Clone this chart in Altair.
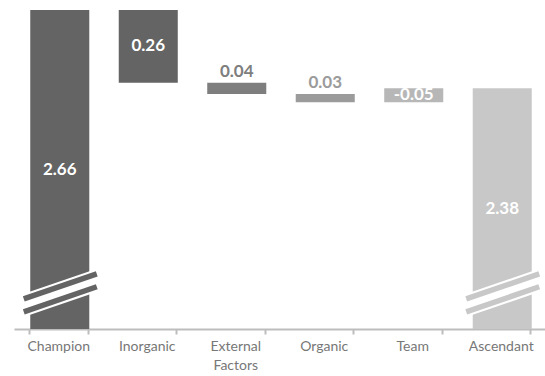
import altair as alt
import pandas as pd

# Waterfall: Champion total, the steps that separate it from Ascendant, Ascendant total
categories = ["Champion", "Inorganic", "External Factors", "Organic", "Team", "Ascendant"]
values = [2.66, 0.26, 0.04, 0.03, -0.05, 2.38]
value_labels = ["2.66", "0.26", "0.04", "0.03", "-0.05", "2.38"]
bar_colors = ["#646464", "#646464", "#7e7e7e", "#9b9b9b", "#b7b7b7", "#c8c8c8"]
label_colors = ["#ffffff", "#ffffff", "#7e7e7e", "#9b9b9b", "#ffffff", "#ffffff"]
label_inside = [True, True, False, False, True, True]

# broken value axis: bars start from this floor
axis_floor = 1.52
axis_top = 2.66

# break symbols on the two total bars (two parallel slashes, value at left / right end)
break_bars = ["Champion", "Ascendant"]
break_left = [1.628, 1.581]
break_right = [1.717, 1.671]

rows = []
running = values[0]
for i, (cat, v) in enumerate(zip(categories, values)):
    if i == 0 or i == len(categories) - 1:
        start, end = axis_floor, v
    else:
        start, end = running, running - v
        running = end
    rows.append({
        "category": cat,
        "start": start,
        "end": end,
        "mid": (start + end) / 2,
        "top": max(start, end),
        "label": value_labels[i],
        "bar_color": bar_colors[i],
        "label_color": label_colors[i],
        "inside": label_inside[i],
    })
bars_df = pd.DataFrame(rows)

break_rows = []
for cat in break_bars:
    color = bars_df.loc[bars_df["category"] == cat, "bar_color"].iloc[0]
    for left, right in zip(break_left, break_right):
        break_rows.append({"category": cat, "left": left, "right": right, "color": color})
breaks_df = pd.DataFrame(break_rows)
gap_df = (
    breaks_df.groupby("category", as_index=False)[["left", "right"]].mean()
)

SHIFT = 1.5  # bars sit slightly right of their band centre

x_enc = alt.X(
    "category:N",
    sort=categories,
    scale=alt.Scale(paddingInner=0.333, paddingOuter=0.1667),
    axis=alt.Axis(
        title=None,
        labelAngle=0,
        tickBand="extent",
        labelExpr="split(datum.label, ' ')",
        labelFont="Lato",
        labelFontSize=14,
        labelColor="#777777",
        labelLineHeight=19,
        labelPadding=5,
        domainColor="#bdbdbd",
        domainWidth=2,
        tickColor="#bdbdbd",
        tickWidth=2,
        tickSize=5,
    ),
)
y_scale = alt.Scale(domain=[axis_floor, axis_top], nice=False, zero=False)

base = alt.Chart(bars_df)

bars = base.mark_bar(xOffset=SHIFT).encode(
    x=x_enc,
    y=alt.Y("start:Q", scale=y_scale, axis=None),
    y2="end:Q",
    color=alt.Color("bar_color:N", scale=None),
)

inside_labels = base.transform_filter("datum.inside").mark_text(
    font="Lato", fontSize=17, fontWeight="bold", baseline="middle", dx=SHIFT
).encode(
    x=alt.X("category:N", sort=categories),
    y=alt.Y("mid:Q", scale=y_scale),
    text="label:N",
    color=alt.Color("label_color:N", scale=None),
)

above_labels = base.transform_filter("!datum.inside").mark_text(
    font="Lato", fontSize=17, fontWeight="bold", baseline="middle", dy=-11, dx=SHIFT
).encode(
    x=alt.X("category:N", sort=categories),
    y=alt.Y("top:Q", scale=y_scale),
    text="label:N",
    color=alt.Color("label_color:N", scale=None),
)

gap = alt.Chart(gap_df).mark_rule(
    color="white", strokeWidth=22, strokeCap="butt",
    xOffset=-36 + SHIFT, x2Offset=37 + SHIFT
).encode(
    x=alt.X("category:N", sort=categories),
    x2="category:N",
    y=alt.Y("left:Q", scale=y_scale),
    y2="right:Q",
)

slashes = alt.Chart(breaks_df).mark_rule(
    strokeWidth=5.5, strokeCap="butt",
    xOffset=-36 + SHIFT, x2Offset=37 + SHIFT
).encode(
    x=alt.X("category:N", sort=categories),
    x2="category:N",
    y=alt.Y("left:Q", scale=y_scale),
    y2="right:Q",
    color=alt.Color("color:N", scale=None),
)

chart = (
    alt.layer(bars, gap, slashes, inside_labels, above_labels)
    .properties(
        width=531,
        height=319,
        autosize=alt.AutoSizeParams(type="none"),
        padding={"left": 14, "top": 10, "right": 0, "bottom": 47},
        background="white",
    )
    .configure_view(stroke=None)
)

chart.save("out.html", embed_options={"renderer": "svg", "actions": False})
